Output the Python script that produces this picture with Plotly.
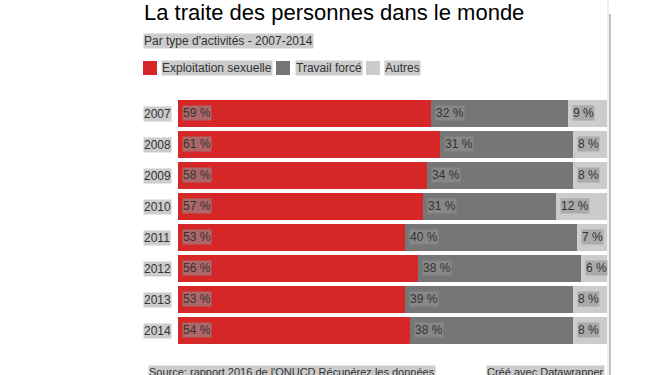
import plotly.graph_objects as go

years = ["2007", "2008", "2009", "2010", "2011", "2012", "2013", "2014"]
exploitation = [59, 61, 58, 57, 53, 56, 53, 54]
travail = [32, 31, 34, 31, 40, 38, 39, 38]
autres = [9, 8, 8, 12, 7, 6, 8, 8]
series_names = ["Exploitation sexuelle", "Travail forcé", "Autres"]
series_colors = ["#d62728", "#767676", "#cccccc"]

title = "La traite des personnes dans le monde"
subtitle = "Par type d'activités - 2007-2014"
source = "Source: rapport 2016 de l'ONUCD Récupérez les données"
credit = "Créé avec Datawrapper"

W, H = 652, 375
L, R, T, B = 178, 45, 98, 29
PW, PH = W - L - R, H - T - B

def px(x):
    return (x - L) / PW

def py(y):
    return (H - B - y) / PH

FONT = "Liberation Sans, Arial, sans-serif"
TXT = "#333333"
HL = "#cccccc"

fig = go.Figure()
series = [exploitation, travail, autres]
for name, vals, col in zip(series_names, series, series_colors):
    fig.add_trace(go.Bar(
        y=years, x=vals, name=name, orientation="h",
        marker=dict(color=col, line=dict(width=0)),
        hoverinfo="skip", showlegend=False,
    ))

annotations = []
shapes = []

# value labels (y given as category index)
for i, yr in enumerate(years):
    start = 0
    for vals in series:
        annotations.append(dict(
            x=start, y=i, xref="x", yref="y", text=f"{vals[i]} %",
            xanchor="left", yanchor="middle", xshift=4, yshift=1, showarrow=False,
            font=dict(family=FONT, size=12, color=TXT),
            bgcolor="rgba(147,147,147,0.6)", borderpad=0,
        ))
        start += vals[i]
    # year labels
    annotations.append(dict(
        x=px(143), y=i, xref="paper", yref="y", text=yr,
        xanchor="left", yanchor="middle", yshift=0, showarrow=False,
        font=dict(family=FONT, size=12, color=TXT),
        bgcolor=HL, borderpad=0,
    ))

# title & subtitle
annotations.append(dict(
    x=px(142), y=py(12), xref="paper", yref="paper", text=title,
    xanchor="left", yanchor="middle", showarrow=False,
    font=dict(family=FONT, size=22, color="#000000"),
))
annotations.append(dict(
    x=px(143), y=py(41), xref="paper", yref="paper", text=subtitle,
    xanchor="left", yanchor="middle", showarrow=False,
    font=dict(family=FONT, size=12, color=TXT), bgcolor=HL, borderpad=0,
))

# legend
leg_sq_x = [143, 276, 366]
leg_tx_x = [161, 295, 384]
for name, col, sx, tx in zip(series_names, series_colors, leg_sq_x, leg_tx_x):
    shapes.append(dict(type="rect", xref="paper", yref="paper",
                       x0=px(sx), x1=px(sx + 14), y0=py(75), y1=py(61),
                       fillcolor=col, line=dict(width=0)))
    annotations.append(dict(
        x=px(tx), y=py(68), xref="paper", yref="paper", text=name,
        xanchor="left", yanchor="middle", showarrow=False,
        font=dict(family=FONT, size=12, color=TXT), bgcolor=HL, borderpad=0,
    ))

# footer
annotations.append(dict(
    x=px(148), y=py(372), xref="paper", yref="paper", text=source,
    xanchor="left", yanchor="middle", showarrow=False,
    font=dict(family=FONT, size=11, color=TXT), bgcolor=HL, borderpad=0,
))
annotations.append(dict(
    x=px(605), y=py(372), xref="paper", yref="paper", text=credit,
    xanchor="right", yanchor="middle", showarrow=False,
    font=dict(family=FONT, size=11, color=TXT), bgcolor=HL, borderpad=0,
))

# right border strip
shapes.append(dict(type="rect", xref="paper", yref="paper",
                   x0=px(607), x1=px(609), y0=py(375), y1=py(0),
                   fillcolor="#f0f0f0", line=dict(width=0)))
shapes.append(dict(type="rect", xref="paper", yref="paper",
                   x0=px(609), x1=px(611), y0=py(375), y1=py(14),
                   fillcolor="#c1c1c1", line=dict(width=0)))

fig.update_layout(
    width=W, height=H,
    margin=dict(l=L, r=R, t=T, b=B, pad=0),
    barmode="stack", bargap=4 / 31,
    paper_bgcolor="white", plot_bgcolor="white",
    xaxis=dict(range=[0, 100], visible=False, fixedrange=True),
    yaxis=dict(type="category", categoryorder="array", categoryarray=years,
               range=[len(years) - 0.5, -0.5], autorange=False,
               visible=False, fixedrange=True),
    annotations=annotations, shapes=shapes,
    font=dict(family=FONT),
)

fig.write_html("out.html", config={"displayModeBar": False},
               post_script="document.body.style.margin='0';document.body.style.overflow='hidden';")
